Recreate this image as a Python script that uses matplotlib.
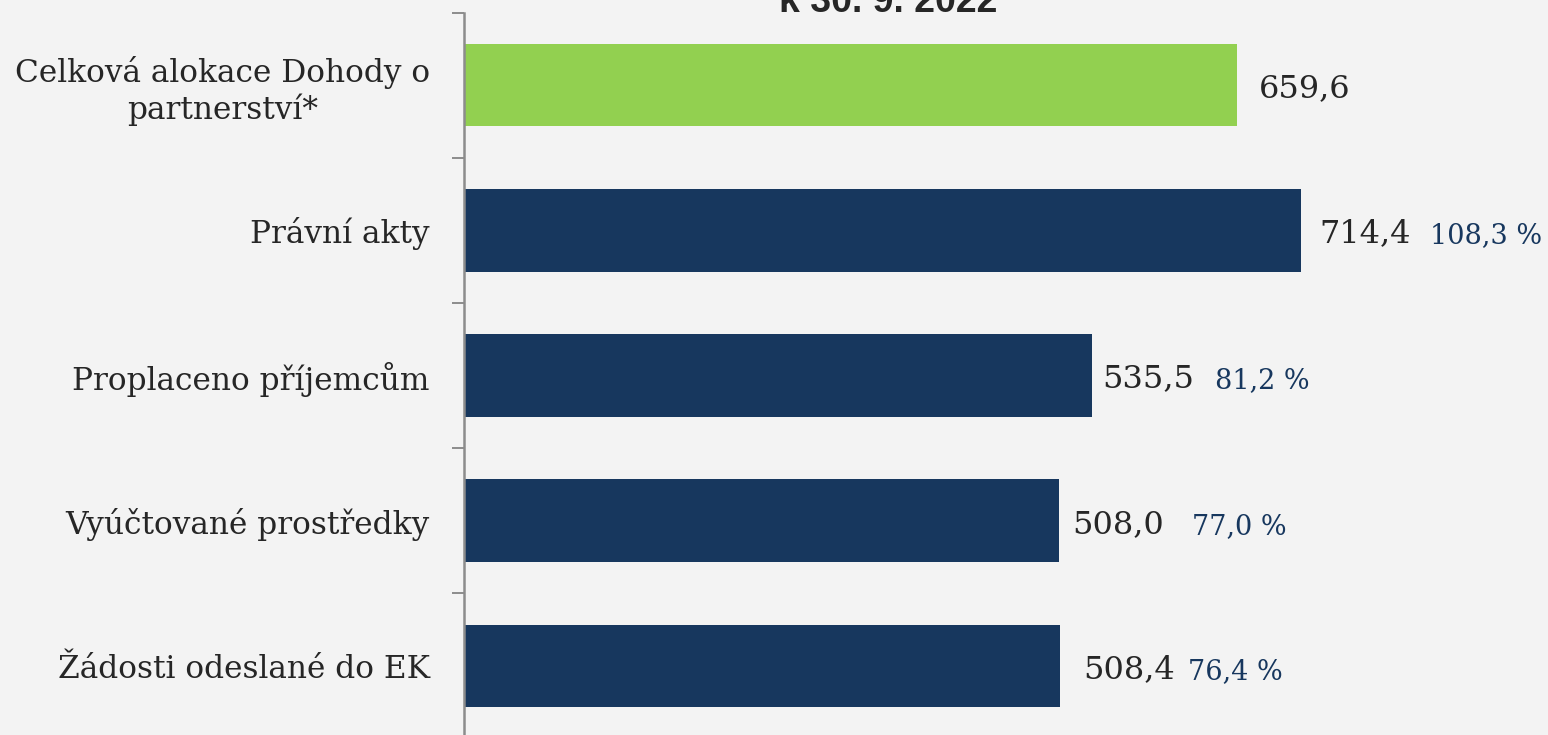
import matplotlib
matplotlib.use("Agg")
import matplotlib.pyplot as plt
import numpy as np

# ---- data ----
categories = ["Celková alokace Dohody o\npartnerství*", "Právní akty",
              "Proplaceno příjemcům", "Vyúčtované prostředky",
              "Žádosti odeslané do EK"]
values = [659.6, 714.4, 535.5, 508.0, 508.4]
value_labels = ["659,6", "714,4", "535,5", "508,0", "508,4"]
pct_labels = ["", "108,3 %", "81,2 %", "77,0 %", "76,4 %"]
title = "k 30. 9. 2022"

# ---- layout/style ----
bg = "#F3F3F3"
navy = "#17375E"
green = "#92D050"
bar_colors = [green, navy, navy, navy, navy]
val_offsets_px = [22, 18, 11, 13, 23]     # gap bar end -> value label
pct_offsets_px = [0, 129, 123, 133, 128]  # gap bar end -> percent label

W, H = 1548, 735
fig = plt.figure(figsize=(W / 100, H / 100), dpi=100, facecolor=bg)
ax = fig.add_axes([464 / W, (H - 738.5) / H, 1 - 464 / W, (738.5 - 12.5) / H])
ax.set_facecolor(bg)

n = len(categories)
y = np.arange(n)
ax.barh(y, values, height=0.57, color=bar_colors, zorder=2)
ax.set_ylim(n - 0.5, -0.5)
ax.set_xlim(0, (W - 464) / 1.172)

serif = ["DejaVu Serif"]
ax.set_yticks(y)
ax.set_yticklabels(categories, fontsize=22.5, family=serif, color="#262626",
                   multialignment="center")
ax.tick_params(axis="y", which="major", length=0, pad=24.5)
ax.set_yticks(np.arange(n + 1) - 0.5, minor=True)
ax.tick_params(axis="y", which="minor", length=8.6, width=1.4, color="#8C8C8C",
               direction="out")
ax.set_xticks([])
for s in ["top", "right", "bottom"]:
    ax.spines[s].set_visible(False)
ax.spines["left"].set_color("#8C8C8C")
ax.spines["left"].set_linewidth(1.8)

for i in range(n):
    ax.annotate(value_labels[i], xy=(values[i], i), xytext=(val_offsets_px[i], -12),
                textcoords="offset pixels", ha="left", va="baseline",
                fontsize=23, family=serif, color="#262626")
    if pct_labels[i]:
        ax.annotate(pct_labels[i], xy=(values[i], i), xytext=(pct_offsets_px[i], -13),
                    textcoords="offset pixels", ha="left", va="baseline",
                    fontsize=19.5, family=serif, color=navy)

fig.text(888 / W, 1 - 12 / H, title, ha="center", va="baseline",
         fontsize=27, fontweight="bold", family=["Liberation Sans"], color="#262626")

fig.savefig("out.png", dpi=100, facecolor=bg)
